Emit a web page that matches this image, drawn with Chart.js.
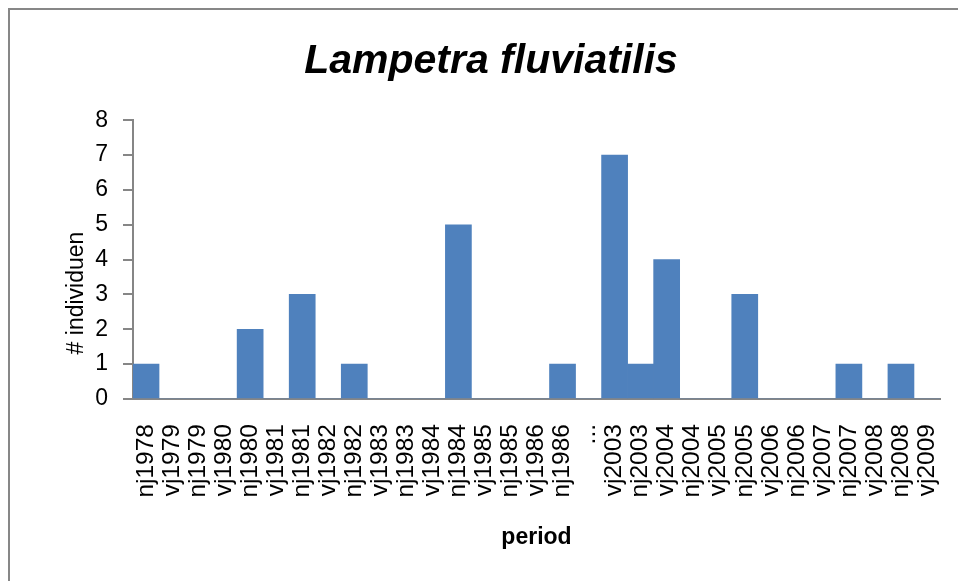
<!DOCTYPE html>
<html>
<head>
<meta charset="utf-8">
<script src="https://cdn.jsdelivr.net/npm/chart.js@4.4.1/dist/chart.umd.min.js"></script>
<style>
  html, body { margin: 0; padding: 0; background: #fff; overflow: hidden; }
  #wrap { position: relative; width: 958px; height: 581px; }
  #frame { position: absolute; left: 8px; top: 8px; width: 1000px; height: 1000px; border: 2px solid #878787; box-sizing: border-box; pointer-events: none; }
  canvas { position: absolute; left: 0; top: 0; }
</style>
</head>
<body>
<div id="wrap">
  <canvas id="c" width="958" height="581"></canvas>
  <div id="frame"></div>
</div>
<script>
const chartTitle = 'Lampetra fluviatilis';
const yAxisTitle = '# individuen';
const xAxisTitle = 'period';
const categories = ['nj1978','vj1979','nj1979','vj1980','nj1980','vj1981','nj1981','vj1982','nj1982','vj1983','nj1983','vj1984','nj1984','vj1985','nj1985','vj1986','nj1986','...','vj2003','nj2003','vj2004','nj2004','vj2005','nj2005','vj2006','nj2006','vj2007','nj2007','vj2008','nj2008','vj2009'];
const counts = [1,0,0,0,2,0,3,0,1,0,0,0,5,0,0,0,1,0,7,1,4,0,0,3,0,0,0,1,0,1,0];
const yTicks = [0,1,2,3,4,5,6,7,8];

const FONT = '"Liberation Sans", Arial, sans-serif';
const axisGray = '#868686';
const PAD_L = 42, PAD_R = 18;

const yTitlePlugin = {
  id: 'yTitle',
  afterDraw(chart) {
    const ctx = chart.ctx;
    ctx.save();
    ctx.font = '23px ' + FONT;
    ctx.fillStyle = '#000';
    ctx.textAlign = 'center';
    ctx.textBaseline = 'middle';
    ctx.translate(77, 293);
    ctx.rotate(-Math.PI / 2);
    ctx.fillText(yAxisTitle, 0, 0);
    ctx.restore();
  }
};

new Chart(document.getElementById('c'), {
  type: 'bar',
  data: {
    labels: categories,
    datasets: [{
      data: counts,
      backgroundColor: '#4F81BD',
      borderWidth: 0,
      barPercentage: 1,
      categoryPercentage: 1
    }]
  },
  options: {
    responsive: false,
    animation: false,
    layout: { padding: { left: PAD_L, right: PAD_R, top: 0, bottom: 0 } },
    plugins: {
      legend: { display: false },
      tooltip: { enabled: false },
      title: {
        display: true,
        text: chartTitle,
        color: '#000',
        font: { family: FONT, size: 41, style: 'italic', weight: 'bold', lineHeight: 1.2 },
        padding: { top: 37, bottom: 34 }
      }
    },
    scales: {
      x: {
        grid: { display: false, drawTicks: false },
        border: { display: true, color: axisGray, width: 2 },
        ticks: {
          color: '#000',
          font: { family: FONT, size: 24.5 },
          minRotation: 90, maxRotation: 90,
          autoSkip: false,
          padding: 25
        },
        title: {
          display: true,
          text: xAxisTitle,
          color: '#000',
          font: { family: FONT, size: 23, weight: 'bold', lineHeight: 1.2 },
          padding: { top: 0, bottom: 30 }
        },
        afterFit(scale) { scale.height = 182; scale.paddingLeft = 0; scale.paddingRight = 0; }
      },
      y: {
        min: 0, max: 8,
        afterBuildTicks(scale) { scale.ticks = yTicks.map(v => ({ value: v })); },
        grid: { drawOnChartArea: false, drawTicks: true, tickLength: 10, color: axisGray, lineWidth: 2 },
        border: { display: true, color: axisGray, width: 2 },
        ticks: {
          color: '#000',
          font: { family: FONT, size: 23 },
          padding: 15
        },
        afterFit(scale) { scale.width = 133 - PAD_L; }
      }
    }
  },
  plugins: [yTitlePlugin]
});
</script>
</body>
</html>
